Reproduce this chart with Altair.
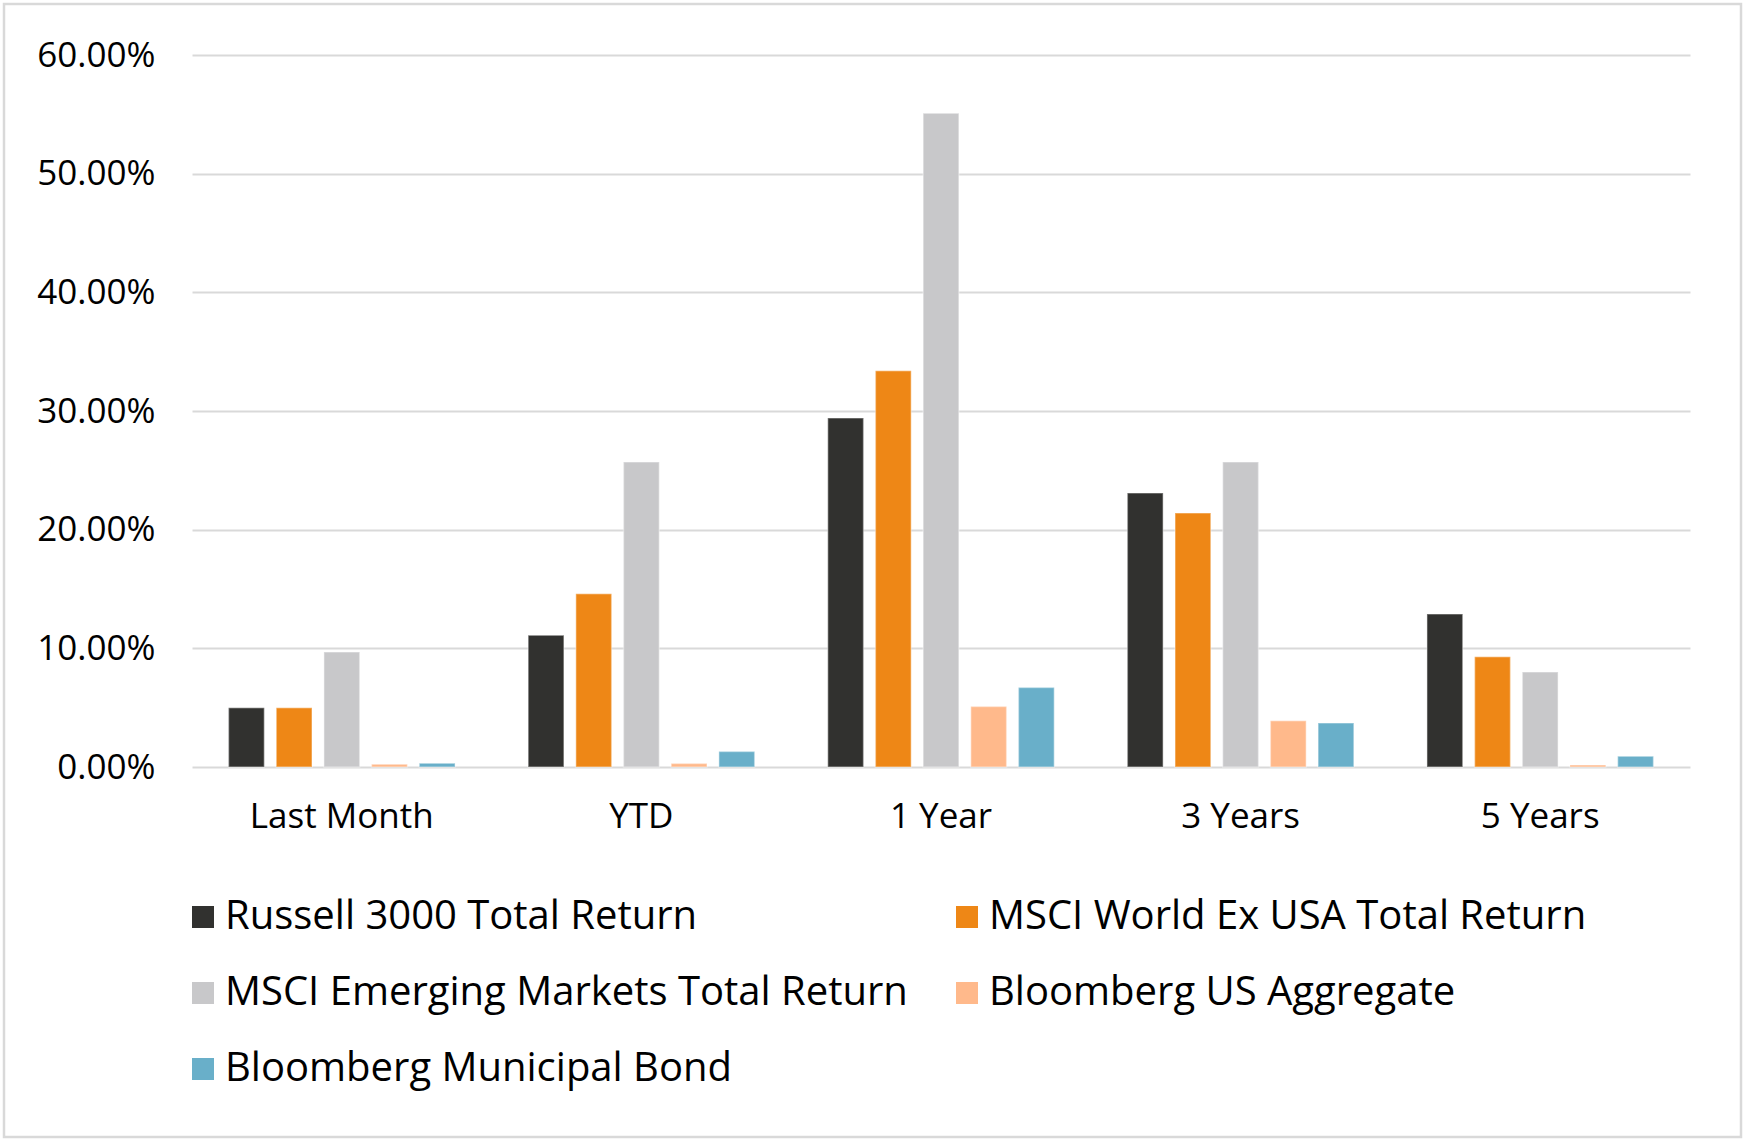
import altair as alt
import pandas as pd

categories = ["Last Month", "YTD", "1 Year", "3 Years", "5 Years"]
series = [
    "Russell 3000 Total Return",
    "MSCI World Ex USA Total Return",
    "MSCI Emerging Markets Total Return",
    "Bloomberg US Aggregate",
    "Bloomberg Municipal Bond",
]
colors = ["#31312f", "#ee8716", "#c8c8ca", "#ffb98b", "#69afc9"]

russell = [5.0, 11.1, 29.4, 23.1, 12.9]
msci_world = [5.0, 14.6, 33.4, 21.4, 9.3]
msci_em = [9.7, 25.7, 55.1, 25.7, 8.0]
bbg_agg = [0.23, 0.3, 5.1, 3.9, 0.17]
bbg_muni = [0.31, 1.3, 6.7, 3.7, 0.9]

y_ticks = [0.0, 0.1, 0.2, 0.3, 0.4, 0.5, 0.6]

rows = []
for name, vals in zip(series, [russell, msci_world, msci_em, bbg_agg, bbg_muni]):
    for c, v in zip(categories, vals):
        rows.append({"period": c, "index": name, "ret": v / 100.0})
df = pd.DataFrame(rows)

# legend fills column by column: order entries so rows read left-to-right
legend_order = [series[0], series[2], series[4], series[1], series[3]]
legend_colors = [colors[series.index(s)] for s in legend_order]

FONT = "Open Sans"

bars = alt.Chart(df).mark_bar(stroke="white", strokeOpacity=0.35, strokeWidth=1.5).encode(
    x=alt.X(
        "period:N",
        sort=categories,
        scale=alt.Scale(paddingInner=0.244, paddingOuter=0.122),
        axis=alt.Axis(
            title=None, labelAngle=0, domain=False, ticks=False, labelLimit=400,
            labelFont=FONT, labelFontSize=35, labelColor="#000000", labelPadding=32,
        ),
    ),
    xOffset=alt.XOffset("index:N", sort=series, scale=alt.Scale(paddingInner=0.25, paddingOuter=0)),
    y=alt.Y(
        "ret:Q",
        scale=alt.Scale(domain=[0, 0.6], nice=False),
        axis=alt.Axis(
            title=None, format=".2%", values=y_ticks, domain=False, ticks=False,
            labelFont=FONT, labelFontSize=35, labelColor="#000000", labelPadding=37,
            gridColor="#d9d9d9", gridWidth=2,
        ),
    ),
    color=alt.Color(
        "index:N",
        scale=alt.Scale(domain=legend_order, range=legend_colors),
        legend=alt.Legend(
            title=None, orient="none", legendX=-9, legendY=842, columns=2,
            columnPadding=39, rowPadding=36, symbolType="square", symbolSize=484,
            symbolStrokeWidth=0, labelFont=FONT, labelFontSize=40, labelColor="#000000",
            labelOffset=2, labelLimit=0,
        ),
    ),
)

frame = alt.Chart(pd.DataFrame({"a": [0]})).mark_rect(
    fill="transparent", stroke="#d9d9d9", strokeWidth=2.5
).encode(
    x=alt.value(-188), x2=alt.value(1549), y=alt.value(-51), y2=alt.value(1082)
)

chart = alt.layer(frame, bars).properties(
    width=1498,
    height=712,
    autosize=alt.AutoSizeParams(type="none"),
    padding={"left": 192, "top": 55, "right": 60, "bottom": 378},
    background="white",
).configure_view(stroke=None)

chart.save("out.html", embed_options={"renderer": "svg", "actions": False})
